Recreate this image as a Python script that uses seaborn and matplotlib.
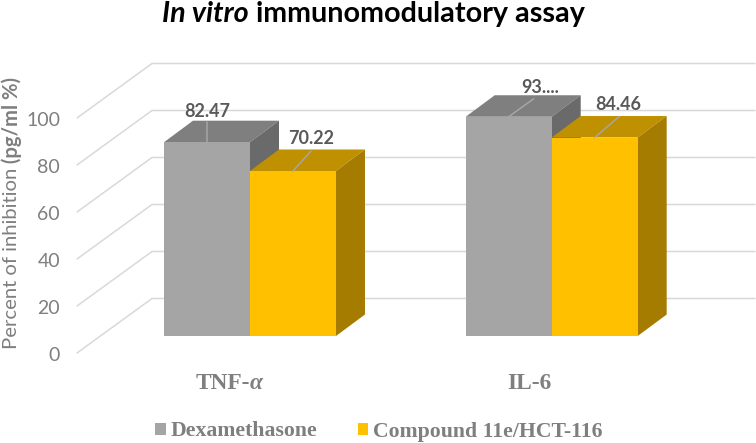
import pandas as pd
import matplotlib
matplotlib.use('Agg')
import matplotlib.pyplot as plt
from matplotlib.patches import Polygon
import seaborn as sns

# values
categories = ['TNF-α', 'IL-6']
series_names = ['Dexamethasone', 'Compound 11e/HCT-116']
dexa_values = [82.47, 93.3]
comp_values = [70.22, 84.46]
dexa_labels = ['82.47', '93....']
comp_labels = ['70.22', '84.46']
grid_ticks = [0, 20, 40, 60, 80, 100]

W, H = 756, 443
PX_X = 301.7   # pixels per category
PX_Y = 2.35    # pixels per percent
X0 = 250.0     # pixel of first category
Y0 = 336.0     # pixel of value 0 on the bar front


def dx(px):
    return px / PX_X


def dy(px):
    return px / PX_Y


def xpx(px):
    return (px - X0) / PX_X


def ypx(px):
    return (Y0 - px) / PX_Y


df = pd.DataFrame({
    'Category': categories * 2,
    'Series': [series_names[0]] * 2 + [series_names[1]] * 2,
    'Value': dexa_values + comp_values,
})

sns.set_theme(style='white')
plt.rcParams['font.family'] = ['Lato', 'DejaVu Sans']

fig = plt.figure(figsize=(W / 100, H / 100), dpi=100)
ax = fig.add_axes([0, 0, 1, 1])

colors = {series_names[0]: '#A5A5A5', series_names[1]: '#FFC000'}
sns.barplot(data=df, x='Category', y='Value', hue='Series', palette=colors,
            width=0.57, gap=0, saturation=1, legend=False, ax=ax, zorder=3,
            edgecolor='none', linewidth=0)

ax.set_xlim(xpx(0), xpx(W))
ax.set_ylim(ypx(H), ypx(0))
ax.axis('off')

# walls and gridlines
for t in grid_ticks:
    left = (xpx(77), ypx(353) + t)
    back = (xpx(152), ypx(298.5) + t)
    ax.plot([left[0], back[0], xpx(755)], [left[1], back[1], back[1]],
            color='#D9D9D9', lw=1.1, zorder=1, solid_joinstyle='miter')
    ax.text(xpx(60), ypx(355.5) + t, str(t), ha='right', va='center',
            fontsize=14, color='#7F7F7F')

# 3d faces on top of each bar
depth_x, depth_y = dx(29), dy(21.5)
top_colors = ['#7F7F7F', '#BF9000']
side_colors = ['#6A6A6A', '#A67C00']
for i, cont in enumerate(ax.containers):
    for bar in cont:
        x1, x2 = bar.get_x(), bar.get_x() + bar.get_width()
        h = bar.get_height()
        ax.add_patch(Polygon([(x1, h), (x2, h), (x2 + depth_x, h + depth_y), (x1 + depth_x, h + depth_y)],
                             facecolor=top_colors[i], edgecolor='none', zorder=2.5 + i * 0.1))
        ax.add_patch(Polygon([(x2, 0), (x2, h), (x2 + depth_x, h + depth_y), (x2 + depth_x, depth_y)],
                             facecolor=side_colors[i], edgecolor='none', zorder=2.5 + i * 0.1))

# data labels and their leader lines, offsets in pixels from the bar top centre
all_labels = [dexa_labels, comp_labels]
leader_ends = [[(0, 20), (25, 18)], [(18, 20), (24.5, 21)]]
label_offsets = [[(0, 31), (31, 29), ], [(18.5, 32), (24, 33)]]
for i, cont in enumerate(ax.containers):
    for j, bar in enumerate(cont):
        cx = bar.get_x() + bar.get_width() / 2
        h = bar.get_height()
        ex, ey = leader_ends[i][j]
        ax.plot([cx, cx + dx(ex)], [h, h + dy(ey)], color='#A6A6A6', lw=1.1, zorder=4)
        lx, ly = label_offsets[i][j]
        ax.text(cx + dx(lx), h + dy(ly), all_labels[i][j], ha='center', va='center',
                fontsize=13, fontweight='bold', color='#595959', zorder=5)

# category labels
serif = 'Liberation Serif'
cat_y = ypx(383.5)
ax.text(xpx(250), cat_y, 'TNF-', ha='right', va='center', family=serif, fontsize=16.8,
        fontweight='bold', color='#7F7F7F')
ax.text(xpx(250), cat_y, 'α', ha='left', va='center', family=serif, fontsize=16.8,
        fontweight='bold', fontstyle='italic', color='#7F7F7F')
ax.text(xpx(529), cat_y, categories[1], ha='center', va='center', family=serif, fontsize=16.8,
        fontweight='bold', color='#7F7F7F')

# title in two pieces because of the italic part
ax.text(xpx(249), ypx(14), 'In vitro', ha='right', va='center', fontsize=20.7,
        fontweight='bold', fontstyle='italic', color='black')
ax.text(xpx(249), ypx(14), ' immunomodulatory assay', ha='left', va='center', fontsize=20.7,
        fontweight='bold', color='black')

# y axis title, also two pieces
ax.text(xpx(12), ypx(168), ' (pg/ml %)', rotation=90, ha='center', va='bottom', fontsize=14.6,
        fontweight='bold', color='#7F7F7F')
ax.text(xpx(12), ypx(168), 'Percent of inhibition', rotation=90, ha='center', va='top', fontsize=14.6,
        color='#7F7F7F')

leg = ax.legend(handles=[c[0] for c in ax.containers], labels=series_names, ncols=2, frameon=False,
                loc='center', bbox_to_anchor=(379 / W, 1 - 431.5 / H), bbox_transform=fig.transFigure,
                handlelength=0.5, handleheight=0.5, handletextpad=0.22, columnspacing=1.83,
                prop={'family': serif, 'weight': 'bold', 'size': 15.7})
for text in leg.get_texts():
    text.set_color('#7F7F7F')

fig.savefig('out.png', dpi=100)
